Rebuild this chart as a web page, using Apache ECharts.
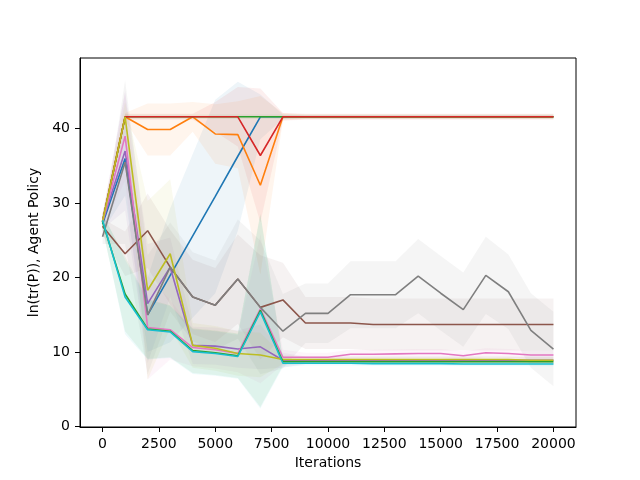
<!DOCTYPE html>
<html><head><meta charset="utf-8">
<script src="https://cdn.jsdelivr.net/npm/echarts@6/dist/echarts.min.js"></script>
<style>html,body{margin:0;padding:0;background:#fff}#c{width:640px;height:480px}</style>
</head><body><div id="c"></div>
<script>
const iterations = [0,1000,2000,3000,4000,5000,6000,7000,8000,9000,10000,11000,12000,13000,14000,15000,16000,17000,18000,19000,20000];
const xTicks = [0,2500,5000,7500,10000,12500,15000,17500,20000];
const yTicks = [0,10,20,30,40];

const blueMean   = [27.2,36.0,15.0,20.3,25.6,30.9,36.3,41.6,41.6,41.6,41.6,41.6,41.6,41.6,41.6,41.6,41.6,41.6,41.6,41.6,41.6];
const blueStd    = [1.0,5.0,5.0,9.0,11.0,13.0,10.0,3.0,0.3,0.2,0.2,0.2,0.2,0.2,0.2,0.2,0.2,0.2,0.2,0.2,0.2];
const orangeMean = [27.5,41.6,39.9,39.9,41.6,39.3,39.2,32.4,41.6,41.6,41.6,41.6,41.6,41.6,41.6,41.6,41.6,41.6,41.6,41.6,41.6];
const orangeStd  = [1.0,0.5,3.5,3.5,2.0,4.0,4.5,12.0,0.5,0.3,0.3,0.3,0.3,0.3,0.3,0.3,0.3,0.3,0.3,0.3,0.3];
const greenMean  = [27.5,41.6,41.6,41.6,41.6,41.6,41.6,41.6,41.6,41.6,41.6,41.6,41.6,41.6,41.6,41.6,41.6,41.6,41.6,41.6,41.6];
const greenStd   = [1.0,0.3,0.3,0.3,0.3,0.3,0.3,0.3,0.3,0.3,0.3,0.3,0.3,0.3,0.3,0.3,0.3,0.3,0.3,0.3,0.3];
const redMean    = [27.5,41.6,41.6,41.6,41.6,41.6,41.6,36.4,41.6,41.6,41.6,41.6,41.6,41.6,41.6,41.6,41.6,41.6,41.6,41.6,41.6];
const redStd     = [1.0,0.4,0.4,0.4,0.4,2.0,4.0,9.0,0.5,0.4,0.4,0.4,0.4,0.4,0.4,0.4,0.4,0.4,0.4,0.4,0.4];
const purpleMean = [27.5,37.0,16.5,21.4,10.9,10.8,10.4,10.7,8.9,8.9,8.9,8.9,8.9,8.9,8.9,8.9,8.9,8.9,8.9,8.9,8.9];
const purpleStd  = [1.0,8.0,8.0,4.0,2.5,2.5,2.5,3.0,1.0,0.5,0.5,0.5,0.5,0.5,0.5,0.5,0.5,0.5,0.5,0.5,0.5];
const brownMean  = [26.9,23.2,26.3,21.4,17.4,16.3,19.8,16.0,17.0,13.9,13.9,13.9,13.7,13.7,13.7,13.7,13.7,13.7,13.7,13.7,13.7];
const brownStd   = [1.0,3.0,5.0,5.0,5.0,5.0,6.0,7.0,5.0,3.5,3.5,3.5,3.5,3.5,3.5,3.5,3.5,3.5,3.5,3.5,3.5];
const pinkMean   = [27.5,39.0,13.3,13.0,10.6,10.3,9.8,15.8,9.3,9.3,9.3,9.7,9.7,9.75,9.8,9.8,9.5,9.9,9.8,9.6,9.6];
const pinkStd    = [1.0,6.0,7.0,4.0,2.5,2.5,2.5,10.0,1.0,0.6,0.6,0.6,0.6,0.6,0.6,0.6,0.6,0.6,0.6,0.6,0.6];
const grayMean   = [25.5,35.5,15.0,21.4,17.4,16.3,19.8,16.0,12.8,15.2,15.2,17.7,17.7,17.7,20.2,17.9,15.7,20.3,18.1,12.9,10.4];
const grayStd    = [1.0,11.0,8.0,6.0,6.0,6.0,8.0,9.0,5.0,4.0,4.0,4.5,4.5,4.5,5.0,5.0,5.0,5.2,5.0,5.0,5.0];
const oliveMean  = [27.5,41.6,18.3,23.2,10.9,10.5,9.8,9.6,9.0,9.0,9.0,9.0,9.0,9.0,9.0,9.0,9.0,9.0,9.0,8.9,8.9];
const oliveStd   = [1.0,2.0,12.0,10.0,3.0,3.0,3.0,3.0,0.6,0.4,0.4,0.4,0.4,0.4,0.4,0.4,0.4,0.4,0.4,0.4,0.4];
const green2Mean = [27.5,17.8,13.1,12.8,10.2,9.9,9.5,15.6,8.7,8.7,8.7,8.7,8.7,8.7,8.7,8.7,8.7,8.7,8.7,8.7,8.7];
const green2Std  = [1.0,5.0,4.0,3.5,3.0,3.0,3.0,13.0,0.5,0.3,0.3,0.3,0.3,0.3,0.3,0.3,0.3,0.3,0.3,0.3,0.3];
const cyanMean   = [27.7,17.4,13.0,12.7,10.05,9.8,9.4,15.4,8.5,8.5,8.5,8.5,8.45,8.45,8.45,8.45,8.4,8.4,8.4,8.4,8.4];
const cyanStd    = [1.0,5.0,4.0,3.5,3.0,3.0,3.0,13.0,0.5,0.3,0.3,0.3,0.3,0.3,0.3,0.3,0.3,0.3,0.3,0.3,0.3];

const runs = [
  ['#1f77b4', blueMean, blueStd],
  ['#ff7f0e', orangeMean, orangeStd],
  ['#2ca02c', greenMean, greenStd],
  ['#d62728', redMean, redStd],
  ['#9467bd', purpleMean, purpleStd],
  ['#8c564b', brownMean, brownStd],
  ['#e377c2', pinkMean, pinkStd],
  ['#7f7f7f', grayMean, grayStd],
  ['#bcbd22', oliveMean, oliveStd],
  ['#2ca02c', green2Mean, green2Std],
  ['#17becf', cyanMean, cyanStd]
];

const FONT = 'DejaVu Sans';
const series = [];
runs.forEach(([color, mean, std]) => {
  series.push({
    type: 'custom', z: 1, clip: true, silent: true,
    data: [[iterations[0], mean[0]]],
    renderItem: (params, api) => {
      const pts = [];
      for (let i = 0; i < iterations.length; i++) pts.push(api.coord([iterations[i], mean[i] + std[i]]));
      for (let i = iterations.length - 1; i >= 0; i--) pts.push(api.coord([iterations[i], mean[i] - std[i]]));
      return { type: 'polygon', shape: { points: pts }, style: { fill: color, opacity: 0.075 } };
    }
  });
});
runs.forEach(([color, mean]) => {
  series.push({
    type: 'line', z: 2, showSymbol: false, symbol: 'none', silent: true,
    data: iterations.map((x, i) => [x, mean[i]]),
    lineStyle: { color: color, width: 1.6 }, itemStyle: { color: color }
  });
});

const plain = v => String(v);
const chart = echarts.init(document.getElementById('c'), null, { renderer: 'canvas' });
chart.setOption({
  animation: false,
  backgroundColor: '#fff',
  grid: { left: 80, right: 64, top: 58, bottom: 53, containLabel: false, outerBoundsMode: 'none',
          show: true, borderColor: '#000', borderWidth: 1, backgroundColor: 'transparent' },
  xAxis: {
    type: 'value', min: -1000, max: 21000,
    name: 'Iterations', nameLocation: 'middle', nameGap: 28,
    nameTextStyle: { fontFamily: FONT, fontSize: 14, color: '#000' },
    axisLine: { show: true, onZero: false, lineStyle: { color: '#000', width: 1 } },
    axisTick: { show: true, inside: false, length: 5, lineStyle: { color: '#000' }, customValues: xTicks },
    axisLabel: { fontFamily: FONT, fontSize: 14, color: '#000', margin: 10, customValues: xTicks, formatter: plain },
    splitLine: { show: false }
  },
  yAxis: {
    type: 'value', min: -0.07, max: 49.5,
    name: 'ln(tr(P)), Agent Policy', nameLocation: 'middle', nameGap: 35, nameRotate: 90,
    nameTextStyle: { fontFamily: FONT, fontSize: 14, color: '#000' },
    axisLine: { show: true, onZero: false, lineStyle: { color: '#000', width: 1 } },
    axisTick: { show: true, inside: false, length: 5, lineStyle: { color: '#000' }, customValues: yTicks },
    axisLabel: { fontFamily: FONT, fontSize: 14, color: '#000', margin: 10, customValues: yTicks, formatter: plain },
    splitLine: { show: false }
  },
  series: series
});
</script></body></html>
